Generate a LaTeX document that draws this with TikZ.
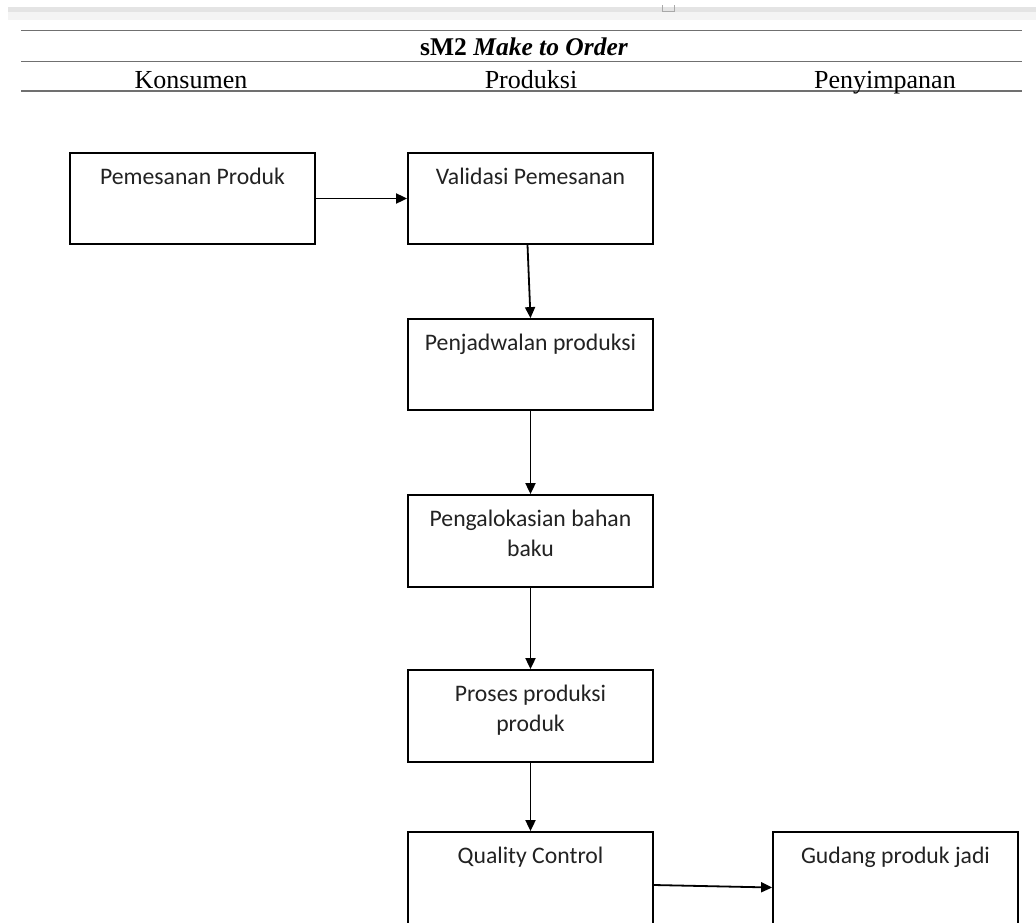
\documentclass[tikz,border=0pt]{standalone}
\usepackage{fontspec}
\setmainfont{Liberation Serif}
\newfontfamily\boxfont{Carlito}
\usetikzlibrary{arrows.meta,calc}

\definecolor{rulegray}{HTML}{707070}
\definecolor{bargray}{HTML}{E4E4E4}
\definecolor{barlight}{HTML}{F4F4F4}
\definecolor{boxtext}{HTML}{222222}

% text of a process box: sits at the top of a fixed-size frame
\newcommand\boxcontent[2][91pt]{\parbox[c][#1][t]{245pt}{\centering\vspace*{15pt}#2\par}}

\begin{document}
\begin{tikzpicture}[x=1pt,y=-1pt,
  stepbox/.style={draw=black, line width=1.8pt, inner sep=0pt,
    font=\boxfont\fontsize{23.7}{30}\selectfont, text=boxtext},
  flow/.style={line width=1.8pt, draw=black, -{Triangle[length=11pt,width=10pt]}},
  tablerule/.style={draw=rulegray, line width=1.5pt},
  headtext/.style={anchor=base, inner sep=0pt, font=\fontsize{26}{30}\selectfont}]

\useasboundingbox (0,0) rectangle (1036,922);
\clip (0,0) rectangle (1036,922);
\fill[white] (0,0) rectangle (1036,922);

% ruler strip along the top edge
\fill[barlight] (8,12) rectangle (1036,20);
\fill[bargray] (8,7) rectangle (1036,12);
\draw[rulegray!60, line width=1pt] (662,5) -- (662,11) -- (674,11) -- (674,5);

% table header
\draw[tablerule] (21,30.5) -- (1022,30.5);
\draw[tablerule] (21,61.5) -- (1022,61.5);
\draw[tablerule] (21,91) -- (1022,91);

\node[headtext, font=\fontsize{25.5}{30}\selectfont] (title) at (524,55)
  {\bfseries sM2 \itshape Make to Order};
\node[headtext] (konsumen) at (191,88) {Konsumen};
\node[headtext] (produksi) at (531,88) {Produksi};
\node[headtext] (penyimpanan) at (885,88) {Penyimpanan};

% process boxes
\node[stepbox] (pesan)   at (192.5,198.5) {\boxcontent{Pemesanan Produk}};
\node[stepbox] (valid)   at (530.5,198.5) {\boxcontent{Validasi Pemesanan}};
\node[stepbox] (jadwal)  at (530.5,364.5) {\boxcontent{Penjadwalan produksi}};
\node[stepbox] (alokasi) at (530.5,541)   {\boxcontent[92pt]{Pengalokasian bahan\\baku}};
\node[stepbox] (proses)  at (530.5,716)   {\boxcontent[92pt]{Proses produksi\\produk}};
\node[stepbox] (qc)      at (530.5,882)   {\boxcontent[100pt]{Quality Control}};
\node[stepbox] (gudang)  at (895.5,882)   {\boxcontent[100pt]{Gudang produk jadi}};

% flow between the steps
\draw[flow] (pesan.east) -- (valid.west);
\draw[flow] ($(valid.south)+(-3,0)$) -- (jadwal.north);
\draw[flow] (jadwal.south) -- (alokasi.north);
\draw[flow] (alokasi.south) -- (proses.north);
\draw[flow] (proses.south) -- (qc.north);
\draw[flow] ($(qc.east)+(0,3)$) -- ($(gudang.west)+(0,5.5)$);
\end{tikzpicture}
\end{document}
